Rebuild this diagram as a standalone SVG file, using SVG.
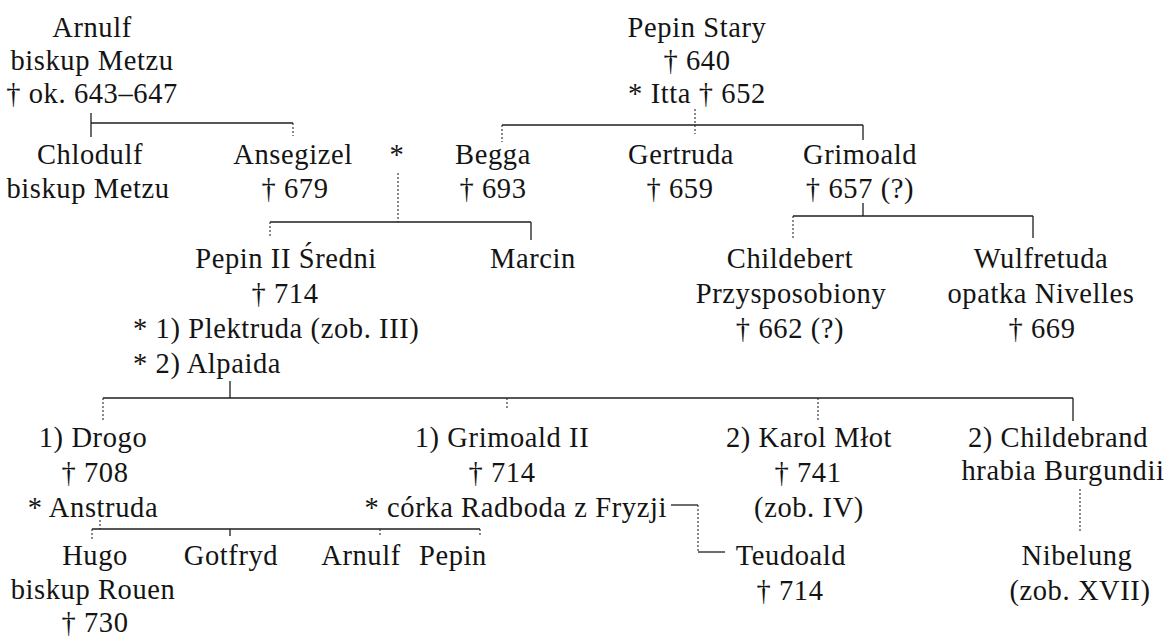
<svg xmlns="http://www.w3.org/2000/svg" width="1172" height="639" viewBox="0 0 1172 639">
  <style>
    text { font-family: "Liberation Serif", "Times New Roman", serif; font-size: 28.5px; letter-spacing: 0.6px; fill: #141414; text-anchor: middle; }
    text.start { text-anchor: start; }
    text.end { text-anchor: end; }
    .ln { stroke: #1e1e1e; stroke-width: 1.3; fill: none; }
    .dot { stroke: #2a2a2a; stroke-width: 1.1; fill: none; stroke-dasharray: 2 2; }
  </style>
  <rect width="1172" height="639" fill="#ffffff"/>

  <!-- connectors -->
  <g id="connectors">
    <!-- Arnulf: children -->
    <line class="ln" x1="91" y1="113" x2="91" y2="137"/>
    <line class="ln" x1="91" y1="123" x2="293" y2="123"/>
    <line class="dot" x1="293" y1="123" x2="293" y2="136"/>

    <!-- Pepin Stary + Itta: children -->
    <line class="dot" x1="695" y1="109" x2="695" y2="134"/>
    <line class="ln" x1="502" y1="125" x2="863" y2="125"/>
    <line class="dot" x1="502" y1="125" x2="502" y2="142"/>
    <line class="ln" x1="863" y1="125" x2="863" y2="140"/>

    <!-- Ansegizel * Begga: children -->
    <line class="dot" x1="398" y1="173" x2="398" y2="222"/>
    <line class="ln" x1="270" y1="222" x2="531" y2="222"/>
    <line class="dot" x1="270" y1="222" x2="270" y2="238"/>
    <line class="ln" x1="531" y1="222" x2="531" y2="240"/>

    <!-- Grimoald: children -->
    <line class="ln" x1="863" y1="203" x2="863" y2="216"/>
    <line class="ln" x1="793" y1="216" x2="1033" y2="216"/>
    <line class="dot" x1="793" y1="216" x2="793" y2="238"/>
    <line class="ln" x1="1033" y1="216" x2="1033" y2="238"/>

    <!-- Pepin II: children -->
    <line class="ln" x1="230" y1="381" x2="230" y2="398"/>
    <line class="ln" x1="103" y1="398" x2="1073" y2="398"/>
    <line class="dot" x1="103" y1="398" x2="103" y2="421"/>
    <line class="dot" x1="507" y1="398" x2="507" y2="410"/>
    <line class="dot" x1="818" y1="398" x2="818" y2="420"/>
    <line class="ln" x1="1073" y1="398" x2="1073" y2="421"/>

    <!-- Drogo + Anstruda: children -->
    <line class="dot" x1="100" y1="520" x2="100" y2="529"/>
    <line class="ln" x1="92" y1="529" x2="480" y2="529"/>
    <line class="dot" x1="92" y1="529" x2="92" y2="540"/>
    <line class="ln" x1="230" y1="529" x2="230" y2="536"/>
    <line class="dot" x1="380" y1="529" x2="380" y2="536"/>
    <line class="dot" x1="480" y1="529" x2="480" y2="537"/>

    <!-- Grimoald II + wife: son -->
    <line class="ln" x1="671" y1="505" x2="698" y2="505"/>
    <line class="dot" x1="698" y1="505" x2="698" y2="552"/>
    <line class="ln" x1="698" y1="552" x2="725" y2="552"/>

    <!-- Childebrand: son -->
    <line class="dot" x1="1080" y1="489" x2="1080" y2="532"/>
  </g>

  <g id="arnulf">
    <text x="92" y="37">Arnulf</text>
    <text x="92" y="70">biskup Metzu</text>
    <text x="92" y="103">† ok. 643–647</text>
  </g>
  <g id="pepin-stary">
    <text x="697" y="37">Pepin Stary</text>
    <text x="697" y="70">† 640</text>
    <text x="697" y="103">* Itta † 652</text>
  </g>

  <g id="chlodulf">
    <text x="90" y="164">Chlodulf</text>
    <text x="88" y="198">biskup Metzu</text>
  </g>
  <g id="ansegizel">
    <text x="293" y="164">Ansegizel</text>
    <text x="295" y="198">† 679</text>
  </g>
  <g id="marriage-sign">
    <text x="397" y="164">*</text>
  </g>
  <g id="begga">
    <text x="493" y="164">Begga</text>
    <text x="493" y="198">† 693</text>
  </g>
  <g id="gertruda">
    <text x="681" y="164">Gertruda</text>
    <text x="680" y="198">† 659</text>
  </g>
  <g id="grimoald">
    <text x="860" y="164">Grimoald</text>
    <text x="860" y="198">† 657 (?)</text>
  </g>

  <g id="pepin-ii">
    <text x="286" y="268">Pepin II Średni</text>
    <text x="285" y="303">† 714</text>
    <text class="start" x="133" y="338">* 1) Plektruda (zob. III)</text>
    <text class="start" x="133" y="373">* 2) Alpaida</text>
  </g>
  <g id="marcin">
    <text x="533" y="268">Marcin</text>
  </g>
  <g id="childebert">
    <text x="790" y="268">Childebert</text>
    <text x="791" y="303">Przysposobiony</text>
    <text x="790" y="338">† 662 (?)</text>
  </g>
  <g id="wulfretuda">
    <text x="1041" y="268">Wulfretuda</text>
    <text x="1041" y="303">opatka Nivelles</text>
    <text x="1042" y="338">† 669</text>
  </g>

  <g id="drogo">
    <text x="93" y="447">1) Drogo</text>
    <text x="95" y="482">† 708</text>
    <text x="93" y="517">* Anstruda</text>
  </g>
  <g id="grimoald-ii">
    <text x="502" y="447">1) Grimoald II</text>
    <text x="502" y="482">† 714</text>
    <text class="end" x="667" y="517">* córka Radboda z Fryzji</text>
  </g>
  <g id="karol-mlot">
    <text x="809" y="447">2) Karol Młot</text>
    <text x="808" y="482">† 741</text>
    <text x="809" y="517">(zob. IV)</text>
  </g>
  <g id="childebrand">
    <text x="1058" y="447">2) Childebrand</text>
    <text x="1063" y="480">hrabia Burgundii</text>
  </g>

  <g id="hugo">
    <text x="95" y="565">Hugo</text>
    <text x="93" y="599">biskup Rouen</text>
    <text x="95" y="632">† 730</text>
  </g>
  <g id="gotfryd">
    <text x="231" y="565">Gotfryd</text>
  </g>
  <g id="arnulf-son">
    <text x="361" y="565">Arnulf</text>
  </g>
  <g id="pepin-son">
    <text x="453" y="565">Pepin</text>
  </g>
  <g id="teudoald">
    <text x="791" y="565">Teudoald</text>
    <text x="790" y="600">† 714</text>
  </g>
  <g id="nibelung">
    <text x="1077" y="565">Nibelung</text>
    <text x="1080" y="600">(zob. XVII)</text>
  </g>
</svg>
